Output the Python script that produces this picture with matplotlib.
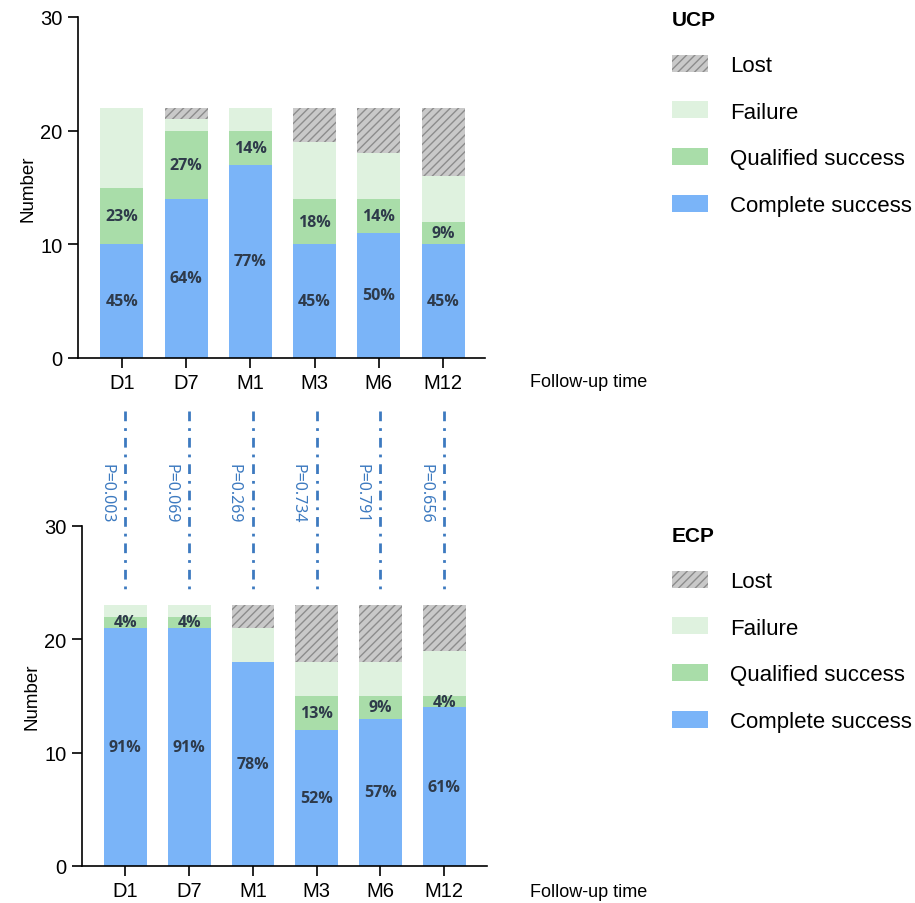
import numpy as np
import matplotlib
matplotlib.use("Agg")
import matplotlib.pyplot as plt
from matplotlib.patches import Patch
from matplotlib.transforms import blended_transform_factory

plt.rcParams['font.family'] = ['Liberation Sans', 'DejaVu Sans']

# ----------- Data -----------
times = ["D1", "D7", "M1", "M3", "M6", "M12"]

ucp_complete = [10, 14, 17, 10, 11, 10]
ucp_qualified = [5, 6, 3, 4, 3, 2]
ucp_failure = [7, 1, 2, 5, 4, 4]
ucp_lost = [0, 1, 0, 3, 4, 6]

ecp_complete = [21, 21, 18, 12, 13, 14]
ecp_qualified = [1, 1, 0, 3, 2, 1]
ecp_failure = [1, 1, 3, 3, 3, 4]
ecp_lost = [0, 0, 2, 5, 5, 4]

p_values = ["P=0.003", "P=0.069", "P=0.269", "P=0.734", "P=0.791", "P=0.656"]

# ----------- Styles -----------
c_complete = "#7AB4F8"
c_qualified = "#A9DDA9"
c_failure = "#DFF2DF"
c_lost = "#C9C9C9"
c_hatch = "#8C8C8C"
c_pct = "#2E3A4A"
c_p = "#3D7AC0"

plt.rcParams['hatch.linewidth'] = 1.0

fig = plt.figure(figsize=(9.15, 9.04), dpi=100)
ax1 = fig.add_axes([78 / 915, 1 - 359 / 904, (485 - 78) / 915, 341 / 904])
ax2 = fig.add_axes([82 / 915, 1 - 867 / 904, (487 - 82) / 915, 340 / 904])


def draw_panel(ax, complete, qualified, failure, lost, xlim):
    x = np.arange(len(times))
    complete = np.array(complete)
    qualified = np.array(qualified)
    failure = np.array(failure)
    lost = np.array(lost)
    total = complete + qualified + failure + lost
    w = 0.67

    ax.bar(x, complete, w, color=c_complete, lw=0)
    ax.bar(x, qualified, w, bottom=complete, color=c_qualified, lw=0)
    ax.bar(x, failure, w, bottom=complete + qualified, color=c_failure, lw=0)
    ax.bar(x, lost, w, bottom=complete + qualified + failure, color=c_lost,
           edgecolor=c_hatch, hatch="////", lw=0)

    # percentage labels
    for i in range(len(x)):
        ax.text(x[i], complete[i] / 2, f"{round(100 * complete[i] / total[i])}%",
                ha="center", va="center", fontsize=11.5, fontweight="bold",
                color=c_pct, family="Open Sans")
        if qualified[i] > 0:
            ax.text(x[i], complete[i] + qualified[i] / 2,
                    f"{round(100 * qualified[i] / total[i])}%",
                    ha="center", va="center", fontsize=11.5, fontweight="bold",
                    color=c_pct, family="Open Sans")

    ax.set_xlim(*xlim)
    ax.set_ylim(0, 30)
    ax.set_yticks([0, 10, 20, 30])
    ax.set_xticks(x)
    ax.set_xticklabels(times)
    ax.spines["top"].set_visible(False)
    ax.spines["right"].set_visible(False)
    ax.spines["left"].set_linewidth(1.2)
    ax.spines["bottom"].set_linewidth(1.2)
    ax.tick_params(axis="both", labelsize=14.5, length=7, width=1.2, pad=4)
    ax.set_ylabel("Number", fontsize=13.5, labelpad=3)

    handles = [
        Patch(facecolor=c_lost, edgecolor=c_hatch, hatch="////", lw=0, label="Lost"),
        Patch(facecolor=c_failure, lw=0, label="Failure"),
        Patch(facecolor=c_qualified, lw=0, label="Qualified success"),
        Patch(facecolor=c_complete, lw=0, label="Complete success"),
    ]
    return handles


h1 = draw_panel(ax1, ucp_complete, ucp_qualified, ucp_failure, ucp_lost, (-0.685, 5.654))
h2 = draw_panel(ax2, ecp_complete, ecp_qualified, ecp_failure, ecp_lost, (-0.68, 5.67))

for handles, title, y in [(h1, "UCP", 1 + 9 / 904), (h2, "ECP", 1 - 507 / 904)]:
    leg = fig.legend(handles=handles, title=title, loc="upper left",
                     bbox_to_anchor=(652 / 915, y), frameon=False, fontsize=16,
                     handlelength=1.6, handleheight=0.8, labelspacing=1.15,
                     handletextpad=1.0, alignment="left")
    leg.get_title().set_fontsize(15)
    leg.get_title().set_fontweight("bold")

fig.text(530 / 915, 1 - 383 / 904, "Follow-up time", fontsize=13, va="center")
fig.text(530 / 915, 1 - 893 / 904, "Follow-up time", fontsize=13, va="center")

# P-value connectors between the two panels
trans = blended_transform_factory(ax2.transData, fig.transFigure)
for i, p in enumerate(p_values):
    ax2.plot([i, i], [1 - 412 / 904, 1 - 590 / 904], transform=trans, clip_on=False,
             color=c_p, lw=2.0, linestyle=(0, (3.5, 2.5, 1, 2.5)))
    ax2.text(i - 0.3, 1 - 494 / 904, p, transform=trans, rotation=270,
             ha="center", va="center", fontsize=11.5, color=c_p, family="Noto Sans")

fig.savefig("out.png", dpi=100)
